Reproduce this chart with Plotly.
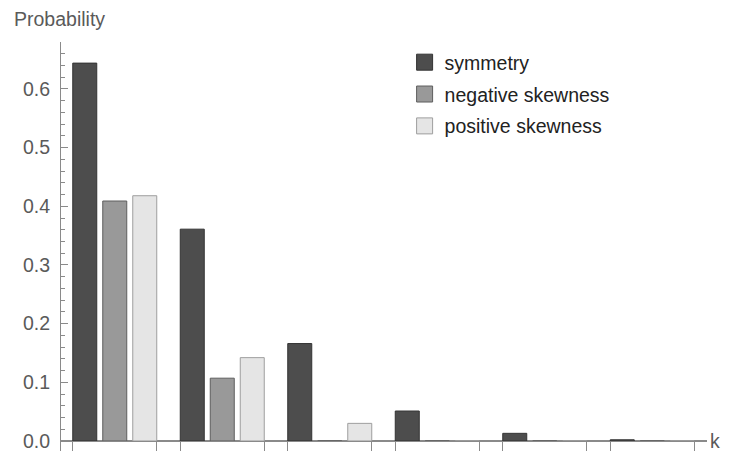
import plotly.graph_objects as go

# ---- data ----
k_values = [0, 1, 2, 3, 4, 5]
series_names = ["symmetry", "negative skewness", "positive skewness"]
symmetry = [0.644, 0.361, 0.166, 0.051, 0.013, 0.002]
negative_skewness = [0.409, 0.107, 0.0, 0.0, 0.0, 0.0]
positive_skewness = [0.418, 0.142, 0.030, 0.0, 0.0, 0.0]
y_tick_vals = [0.0, 0.1, 0.2, 0.3, 0.4, 0.5, 0.6]
y_tick_text = ["0.0", "0.1", "0.2", "0.3", "0.4", "0.5", "0.6"]
x_axis_label = "k"
y_axis_label = "Probability"

# ---- style ----
fills = ["#4d4d4d", "#999999", "#e5e5e5"]
edges = ["#333333", "#5e5e5e", "#9e9e9e"]
axis_col = "#8a8a8a"
text_col = "#5a5a5a"
FONT = "Liberation Sans, Arial, sans-serif"
FS = 19.5

unit = 107.5          # px per k step
bar_w = 24 / unit
bar_step = 30 / unit
group_half = (2 * bar_step + bar_w) / 2

PLOT_H = 409
PLOT_W = 646
y_max = 0.68
y_min = y_max - PLOT_H / 586.7
zero_frac = (0 - y_min) / (y_max - y_min)
x_min = -0.5
x_max = x_min + PLOT_W / unit

fig = go.Figure()
all_series = [symmetry, negative_skewness, positive_skewness]
for j, (name, vals) in enumerate(zip(series_names, all_series)):
    fig.add_trace(go.Bar(
        x=k_values, y=vals, name=name,
        width=bar_w, offset=-group_half + j * bar_step,
        marker=dict(color=fills[j], line=dict(color=edges[j], width=1)),
        showlegend=False,
    ))
    # legend proxy
    fig.add_trace(go.Scatter(
        x=[None], y=[None], mode="markers", name=name,
        marker=dict(symbol="square", size=16, color=fills[j],
                    line=dict(color=edges[j], width=1)),
        showlegend=True, legendgroup=name,
    ))

x_ticks = []
for k in k_values:
    x_ticks += [k - group_half, k + group_half]

L = 53
fig.update_layout(
    width=713, height=443,
    margin=dict(l=L, r=713 - L - PLOT_W, t=34, b=443 - 34 - PLOT_H,
                autoexpand=False),
    paper_bgcolor="white", plot_bgcolor="white",
    barmode="overlay",
    font=dict(family=FONT, size=FS, color=text_col),
    showlegend=True,
    legend=dict(x=(343.6 / PLOT_W), y=1 - 1.0 / PLOT_H,
                xanchor="left", yanchor="top",
                bgcolor="rgba(0,0,0,0)", font=dict(size=FS, color="#222222"),
                tracegroupgap=3.5, itemsizing="trace"),
    xaxis=dict(
        range=[x_min, x_max], anchor="free", automargin=False,
        position=zero_frac,
        showgrid=False, zeroline=False,
        showline=True, linecolor=axis_col, linewidth=1,
        tickmode="array", tickvals=x_ticks, ticktext=[""] * len(x_ticks),
        ticks="outside", ticklen=12, tickcolor=axis_col, tickwidth=1,
    ),
    yaxis=dict(
        range=[y_min, y_max], automargin=False,
        showgrid=False,
        zeroline=True, zerolinecolor=axis_col, zerolinewidth=1,
        showline=True, linecolor=axis_col, linewidth=1,
        tickmode="array", tickvals=y_tick_vals, ticktext=y_tick_text,
        ticks="inside", ticklen=7, tickcolor=axis_col, tickwidth=1,
        ticklabelstandoff=6, ticklabeloverflow="allow",
        tickfont=dict(size=FS, color=text_col),
        minor=dict(dtick=0.02, tick0=0, ticks="inside", ticklen=4,
                   tickcolor=axis_col, tickwidth=1),
    ),
    annotations=[
        dict(text=y_axis_label, xref="paper", yref="paper", x=0, y=1,
             xanchor="left", yanchor="middle", xshift=-49, yshift=23,
             showarrow=False, font=dict(size=FS, color=text_col)),
        dict(text=x_axis_label, xref="paper", yref="paper", x=1, y=zero_frac,
             xanchor="left", yanchor="middle", xshift=1,
             showarrow=False, font=dict(size=FS, color=text_col)),
    ],
)

fig.write_html("out.html")
